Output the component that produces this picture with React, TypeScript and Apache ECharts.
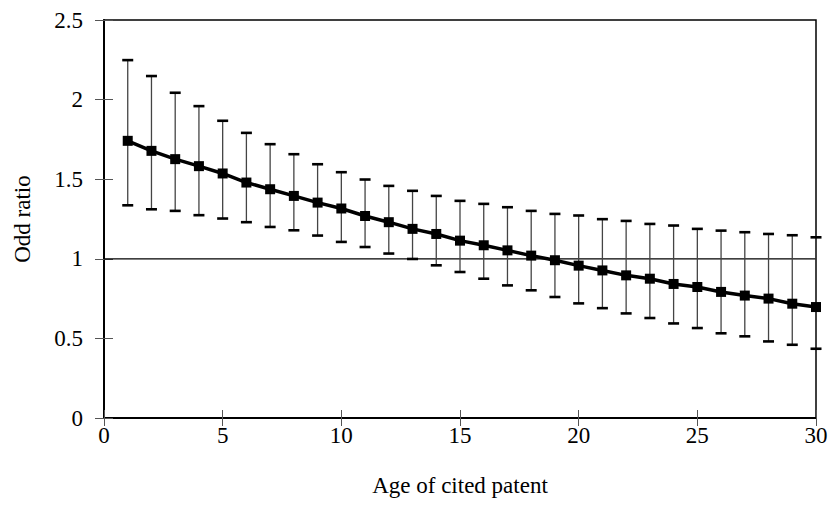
import React, { useEffect, useRef } from "react";
import * as echarts from "echarts";

const ages = [1,2,3,4,5,6,7,8,9,10,11,12,13,14,15,16,17,18,19,20,21,22,23,24,25,26,27,28,29,30];
const oddRatio = [1.741,1.678,1.626,1.582,1.536,1.479,1.437,1.395,1.353,1.316,1.269,1.230,1.188,1.156,1.114,1.085,1.053,1.020,0.991,0.957,0.927,0.896,0.875,0.842,0.823,0.792,0.769,0.750,0.718,0.697];
const upper = [2.248,2.148,2.043,1.959,1.867,1.791,1.720,1.657,1.594,1.544,1.498,1.458,1.427,1.395,1.364,1.345,1.324,1.301,1.282,1.272,1.249,1.238,1.219,1.209,1.188,1.177,1.167,1.156,1.148,1.135];
const lower = [1.336,1.311,1.301,1.274,1.253,1.230,1.200,1.179,1.146,1.106,1.074,1.033,0.999,0.959,0.917,0.875,0.833,0.802,0.760,0.720,0.690,0.657,0.628,0.594,0.565,0.532,0.513,0.481,0.460,0.435];
const xTicks = [0, 30, 5];
const yTicks = [0, 2.5, 0.5];
const refLevel = 1;

export default function App() {
  const ref = useRef<HTMLDivElement>(null);
  useEffect(() => {
    if (!ref.current) return;
    const chart = echarts.init(ref.current, null, { renderer: "svg" });
    const font = "'Liberation Serif', 'Times New Roman', serif";
    const fs = 23;
    const errData = ages.map((a, i) => [a, lower[i], upper[i]]);
    const baseX = {
      type: "value",
      min: xTicks[0],
      max: xTicks[1],
      interval: xTicks[2],
      splitLine: { show: false },
    };
    const baseY = {
      type: "value",
      min: yTicks[0],
      max: yTicks[1],
      interval: yTicks[2],
      splitLine: { show: false },
    };
    chart.setOption({
      animation: false,
      backgroundColor: "#ffffff",
      grid: {
        left: 104,
        right: 18,
        top: 20,
        bottom: 105,
        show: true,
        borderColor: "#000",
        borderWidth: 1.5,
        backgroundColor: "transparent",
      },
      xAxis: [
        {
          ...baseX,
          name: "Age of cited patent",
          nameLocation: "middle",
          nameGap: 56,
          nameTextStyle: { fontFamily: font, fontSize: fs, color: "#000" },
          axisLine: { show: true, lineStyle: { color: "#000", width: 2 } },
          axisTick: { show: true, inside: false, length: 8, lineStyle: { color: "#555", width: 1 } },
          axisLabel: { fontFamily: font, fontSize: fs, color: "#000", margin: 6 },
        },
        {
          ...baseX,
          position: "bottom",
          axisLine: { show: false },
          axisTick: { show: true, inside: true, length: 8, lineStyle: { color: "#555", width: 1 } },
          axisLabel: { show: false },
        },
      ],
      yAxis: [
        {
          ...baseY,
          name: "Odd ratio",
          nameLocation: "middle",
          nameGap: 70,
          nameTextStyle: { fontFamily: font, fontSize: fs, color: "#000" },
          axisLine: { show: true, lineStyle: { color: "#000", width: 2 } },
          axisTick: { show: true, inside: false, length: 9, lineStyle: { color: "#555", width: 1 } },
          axisLabel: { fontFamily: font, fontSize: fs, color: "#000", margin: 21 },
        },
        {
          ...baseY,
          position: "left",
          axisLine: { show: false },
          axisTick: { show: true, inside: true, length: 9, lineStyle: { color: "#555", width: 1 } },
          axisLabel: { show: false },
        },
      ],
      series: [
        {
          type: "line",
          data: [[xTicks[0], refLevel], [xTicks[1], refLevel]],
          symbol: "none",
          lineStyle: { color: "#000", width: 1.3 },
          silent: true,
          z: 1,
        },
        {
          type: "custom",
          data: errData,
          clip: false,
          z: 2,
          renderItem: (params: any, api: any) => {
            const x = api.value(0);
            const lo = api.coord([x, api.value(1)]);
            const hi = api.coord([x, api.value(2)]);
            const hw = 5.5;
            return {
              type: "group",
              children: [
                {
                  type: "line",
                  shape: { x1: lo[0], y1: lo[1], x2: hi[0], y2: hi[1] },
                  style: { stroke: "#444", lineWidth: 1.3 },
                },
                {
                  type: "line",
                  shape: { x1: hi[0] - hw, y1: hi[1], x2: hi[0] + hw, y2: hi[1] },
                  style: { stroke: "#000", lineWidth: 2.6 },
                },
                {
                  type: "line",
                  shape: { x1: lo[0] - hw, y1: lo[1], x2: lo[0] + hw, y2: lo[1] },
                  style: { stroke: "#000", lineWidth: 2.6 },
                },
              ],
            };
          },
        },
        {
          type: "line",
          data: ages.map((a, i) => [a, oddRatio[i]]),
          symbol: "rect",
          symbolSize: 10,
          clip: false,
          itemStyle: { color: "#000" },
          lineStyle: { color: "#000", width: 3.5 },
          z: 3,
        },
      ],
    });
    return () => chart.dispose();
  }, []);
  return (
    <div
      ref={ref}
      style={{ position: "absolute", left: 0, top: 0, width: 834, height: 523 }}
    />
  );
}
